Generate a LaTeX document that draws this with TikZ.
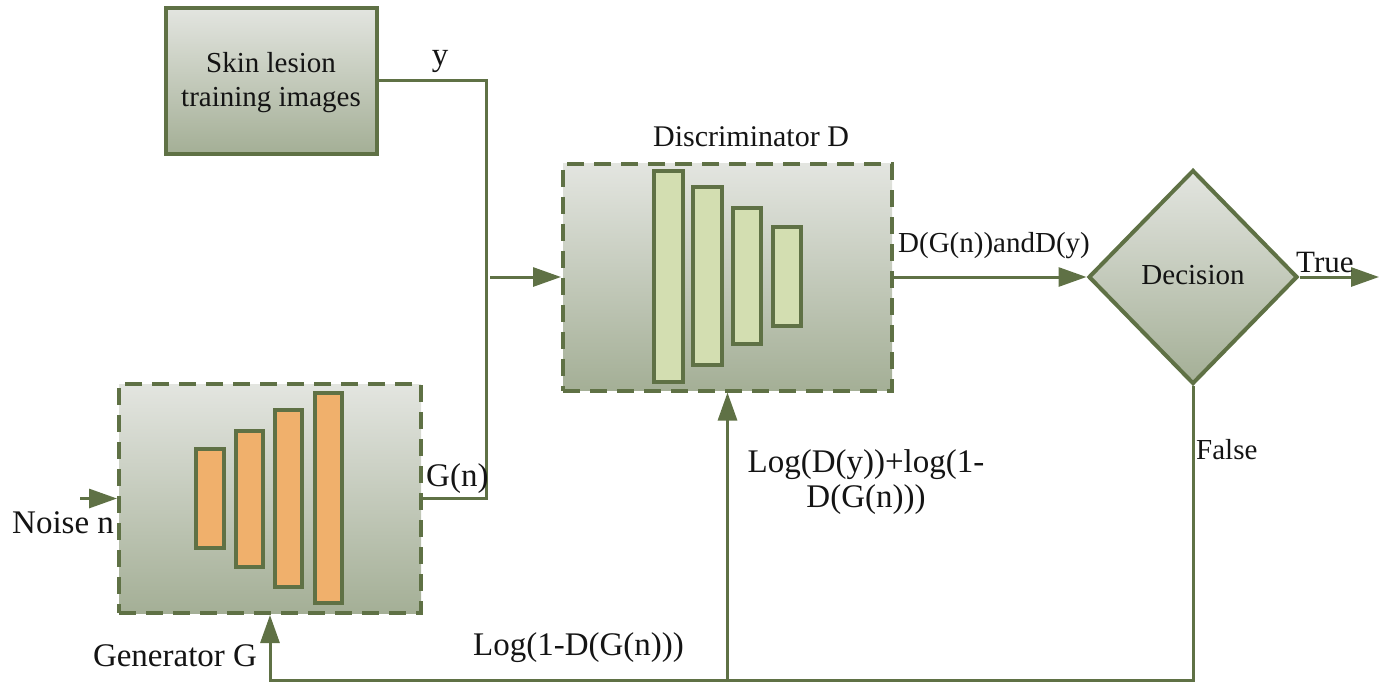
\documentclass[tikz,border=0pt]{standalone}
\usepackage{fontspec}
\setmainfont{LiberationSerif}[Extension=.ttf, UprightFont=*-Regular, BoldFont=*-Bold]
\usetikzlibrary{shapes.geometric,arrows.meta}

\definecolor{olive}{HTML}{5F7145}
\definecolor{boxtop}{HTML}{E3E5E0}
\definecolor{boxbot}{HTML}{A4AF96}
\definecolor{genbar}{HTML}{F0B06C}
\definecolor{discbar}{HTML}{D3DEB1}
\definecolor{ink}{HTML}{141414}

\tikzset{
  shadedbox/.style={draw=olive, line width=4pt, top color=boxtop, bottom color=boxbot,
    inner sep=0pt},
  dashbox/.style={shadedbox, dash pattern=on 17pt off 10pt},
  wire/.style={draw=olive, line width=3pt},
  arr/.style={wire, -{Triangle[length=28pt,width=19pt]}},
  layer/.style={draw=olive, line width=3.5pt},
  lbl/.style={text=ink, inner sep=0pt, font=\fontsize{33}{38}\selectfont},
  small/.style={text=ink, inner sep=0pt, font=\fontsize{29}{34}\selectfont},
}

\begin{document}
\begin{tikzpicture}[x=1pt,y=-1pt]
\useasboundingbox (0,0) rectangle (1379,683);

% main blocks
\node[shadedbox, minimum width=211pt, minimum height=146pt] (skin) at (271,80.5) {};
\node[dashbox, minimum width=302pt, minimum height=229pt] (gen) at (270,498.5) {};
\node[dashbox, minimum width=329pt, minimum height=227pt] (disc) at (727.5,277) {};
\node[shadedbox, diamond, minimum width=209pt, minimum height=214pt] (dec) at (1193,277) {};

% generator layers (growing)
\foreach \xa/\ya/\xb/\yb in {196/449/224/548, 236/431/263/567, 275/410/302/587, 315/393/342/603}
  \draw[layer, fill=genbar] (\xa,\ya) rectangle (\xb,\yb);
% discriminator layers (shrinking)
\foreach \xa/\ya/\xb/\yb in {654/171/683/382, 693/187/722/365, 733/208/761/344, 773/227/801/326}
  \draw[layer, fill=discbar] (\xa,\ya) rectangle (\xb,\yb);

% block texts
\node[small, anchor=base] (skintxt1) at (271,72) {Skin lesion};
\node[small, anchor=base] (skintxt2) at (271,106) {training images};
\node[small, anchor=base] (dectxt) at (1193,284) {Decision};

% connector helpers
\coordinate (bus) at (486,300);
\coordinate (busout) at (490,277);
\coordinate (noise) at (80,498.5);
\coordinate (trueend) at (1379,277);
\coordinate (floor) at (1193,680);

% data paths
\draw[wire] (skin.east) -| (bus) |- (gen.east);
\draw[arr] (busout) -- (disc.west);
\draw[arr] (noise) -- (gen.west);
\draw[arr] (disc.east) -- (dec.west);
\draw[arr] (dec.east) -- (trueend);
\draw[arr] (dec.south) -- (floor) -| (gen.south);
\draw[arr] (disc.south |- floor) -- (disc.south);

% labels
\node[lbl, anchor=base] (ylbl) at (440,65) {y};
\node[lbl, anchor=base west] (gnlbl) at (426,486) {G(n)};
\node[lbl, anchor=base west] (noiselbl) at (12,533) {Noise n};
\node[lbl, anchor=base] (genlbl) at (175,666) {Generator G};
\node[text=ink, inner sep=0pt, font=\fontsize{30}{36}\selectfont, anchor=base] (disclbl) at (751,146) {Discriminator D};
\node[small, anchor=base west] (dglbl) at (898,252) {D(G(n))andD(y)};
\node[text=ink, inner sep=0pt, font=\fontsize{31}{36}\selectfont, anchor=base west] (truelbl) at (1296,272) {True};
\node[small, anchor=base west] (falselbl) at (1196,459) {False};
\node[lbl, align=center, font=\fontsize{33}{35}\selectfont] (dloss) at (866,482) {Log(D(y))+log(1-\\D(G(n)))};
\node[lbl, anchor=base west] (gloss) at (473,655) {Log(1-D(G(n)))};
\end{tikzpicture}
\end{document}
